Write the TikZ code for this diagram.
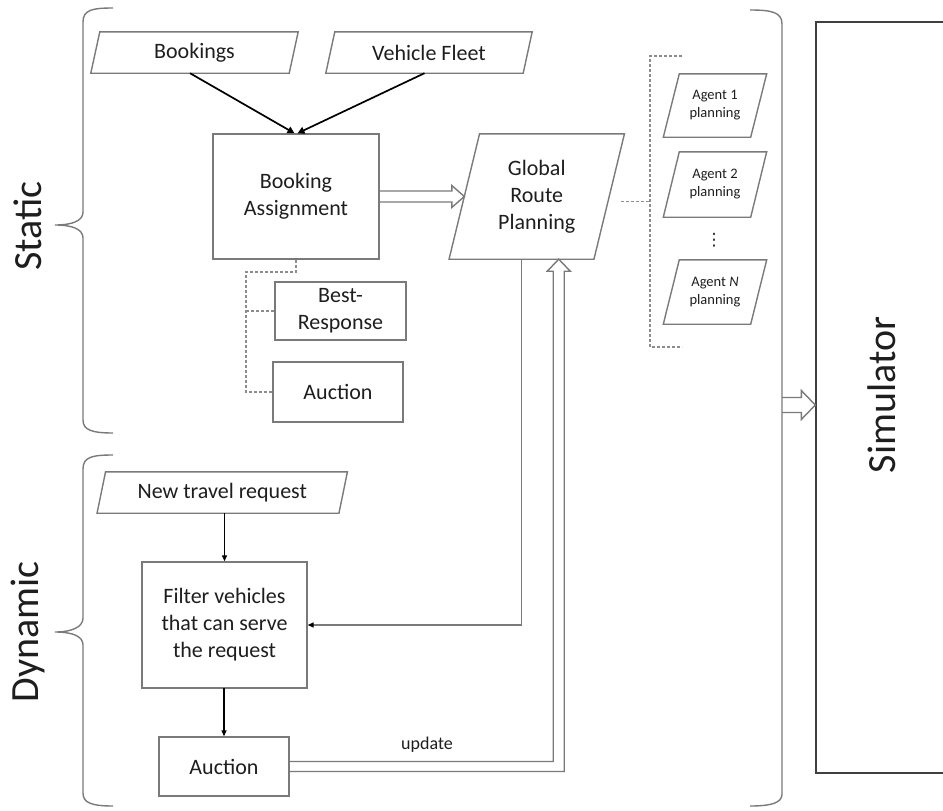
\documentclass[tikz,border=0pt]{standalone}
\usepackage{fontspec}
\setmainfont{Carlito}
\newfontfamily\symfont{DejaVu Sans}
\usetikzlibrary{calc,arrows.meta}
\definecolor{boxgray}{HTML}{7A7A7A}
\definecolor{dashgray}{HTML}{8C8C8C}
\definecolor{txtc}{HTML}{1E1E1E}
\definecolor{simgray}{HTML}{404040}
\newcommand\fsz[2]{\fontsize{#1}{#2}\selectfont}
% parallelogram: name, x, y, width, height, total slant, node options, text
\newcommand\paral[8]{%
  \node[pnode, minimum width=#4pt, minimum height=#5pt, #7] (#1) at (#2,#3) {#8};
  \draw[box] ([xshift=#6/2]#1.north west) -- ([xshift=#6/2]#1.north east)
    -- ([xshift=-#6/2]#1.south east) -- ([xshift=-#6/2]#1.south west) -- cycle;
}
\begin{document}
\begin{tikzpicture}[x=1pt,y=-1pt,
  box/.style={draw=boxgray, line width=1.4pt},
  blk/.style={rectangle, draw=boxgray, line width=1.4pt, align=center, inner sep=0pt, text=txtc, font=\fsz{22}{27}},
  pnode/.style={rectangle, inner sep=0pt, align=center, text=txtc},
  big/.style={rotate=90, text=txtc, font=\fsz{40}{48}},
  brace/.style={draw=boxgray, line width=1.4pt},
  dashc/.style={draw=dashgray, line width=1.2pt, dash pattern=on 3pt off 2pt},
  flow/.style={draw=black, line width=1.7pt, -{Triangle[length=7pt,width=7pt]}},
  thinflow/.style={draw=black, line width=1.3pt, -{Triangle[length=6pt,width=5pt]}},
  gline/.style={draw=boxgray, line width=1.4pt, -{Triangle[length=6pt,width=5pt,color=black]}},
  hollow/.style={draw=boxgray, line width=1.4pt, line join=miter},
]
\useasboundingbox (0,0) rectangle (943,811);

% ---------- side labels and braces ----------
\node[big] (stat) at (28,226) {Static};
\node[big] (dyn) at (28,632) {Dynamic};

\draw[brace] (113,8) .. controls (92,8) and (83,10) .. (83,22) -- (83,212)
  .. controls (83,221) and (72,225) .. (55,225)
  .. controls (72,225) and (83,229) .. (83,238) -- (83,420)
  .. controls (83,430) and (92,433) .. (113,433);
\draw[brace] (113,455) .. controls (92,455) and (83,457) .. (83,469) -- (83,618)
  .. controls (83,627) and (72,632) .. (55,632)
  .. controls (72,632) and (83,636) .. (83,645) -- (83,793)
  .. controls (83,803) and (92,806) .. (113,806);
\draw[brace] (750,10) .. controls (771,10) and (782,12) .. (782,24) -- (782,794)
  .. controls (782,803) and (771,806) .. (750,806);

% ---------- static part ----------
\paral{book}{194.5}{52.5}{198}{41}{9}{font=\fsz{22}{27}}{Bookings}
\paral{vf}{429}{52.5}{197}{41}{9}{font=\fsz{22}{27}}{Vehicle Fleet}

\node[blk, minimum width=166pt, minimum height=125pt] (ba) at (296,196.5) {Booking\\Assignment};
\paral{grp}{536.75}{196.5}{144.5}{125}{30.5}{font=\fsz{22}{27}}{Global\\Route\\Planning}

\node[blk, minimum width=131pt, minimum height=58pt] (br) at (340.5,311) {Best-\\Response};
\node[blk, minimum width=130pt, minimum height=60pt] (auca) at (338,392) {Auction};

\draw[flow] ([xshift=-4.5]book.south) -- ([xshift=-1.5]ba.north);
\draw[flow] ([xshift=-4.5]vf.south) -- ([xshift=1.5]ba.north);

% hollow arrow towards the global planner
\draw[hollow] ($(ba.east)+(0,-5.5)$) -- ($(grp.west)+(-12.5,-5.5)$) -- ($(grp.west)+(-12.5,-11)$)
  -- (grp.west) -- ($(grp.west)+(-12.5,11)$) -- ($(grp.west)+(-12.5,5.5)$) -- ($(ba.east)+(0,5.5)$);

% dashed links to the assignment methods
\coordinate (dk) at (246,272);
\draw[dashc] (ba.south) |- (dk) |- (auca.west);
\draw[dashc] (dk |- br.west) -- (br.west);

% agent plans
\paral{ag1}{715}{105.5}{87}{63}{16}{font=\fsz{14.5}{18}}{Agent 1\\planning}
\paral{ag2}{715}{184.5}{87}{65}{16}{font=\fsz{14.5}{18}}{Agent 2\\planning}
\paral{agn}{715}{292}{87}{64}{16}{font=\fsz{14.5}{18}}{Agent \textit{N}\\planning}
\node[text=txtc, inner sep=0pt, font=\symfont\fsz{17}{18}] (dots) at (714,240) {⋮};

\coordinate (bt) at (682,56);
\coordinate (bb) at (682,347);
\draw[dashc] (bt) -- (650,56) -- (650,347) -- (bb);
\draw[dashc] ($(grp.east)+(12,5)$) -- (650,201.5);

% ---------- dynamic part ----------
\paral{ntr}{222.25}{492.5}{241.5}{41}{8.5}{font=\fsz{22}{27}}{New travel request}
\node[blk, minimum width=165pt, minimum height=126pt] (filt) at (224.5,625) {Filter vehicles\\that can serve\\the request};
\node[blk, minimum width=130pt, minimum height=59pt] (aucb) at (224,766.5) {Auction};

\draw[thinflow] (filt.north |- ntr.south) -- (filt.north);
\draw[thinflow] (filt.south) -- (filt.south -| aucb.north) -- (aucb.north);

\coordinate (grpb) at ($(grp.south)+(-15,0)$);
\draw[gline] (grpb) |- (filt.east);

% update arrow back to the global planner
\coordinate (uptip) at ($(grp.south)+(22,0)$);
\draw[hollow] ($(aucb.east)+(0,-5)$) -| ($(uptip)+(-5.5,12)$) -- ($(uptip)+(-11.5,12)$) -- (uptip)
  -- ($(uptip)+(11.5,12)$) -- ($(uptip)+(5.5,12)$) |- ($(aucb.east)+(0,5)$);
\node[text=txtc, font=\fsz{18}{20}] (upd) at (427,745) {update};

% ---------- simulator ----------
\node[draw=simgray, line width=1.4pt, minimum width=134pt, minimum height=751pt, inner sep=0pt] (sim) at (883,397.5) {};
\node[big] (simtxt) at (882,395) {Simulator};

\coordinate (rb) at (782,405);
\coordinate (stip) at (sim.west |- rb);
\draw[hollow] ($(rb)+(0,-7.5)$) -- ($(stip)+(-14,-7.5)$) -- ($(stip)+(-14,-14.5)$) -- (stip)
  -- ($(stip)+(-14,14.5)$) -- ($(stip)+(-14,7.5)$) -- ($(rb)+(0,7.5)$);
\end{tikzpicture}
\end{document}
